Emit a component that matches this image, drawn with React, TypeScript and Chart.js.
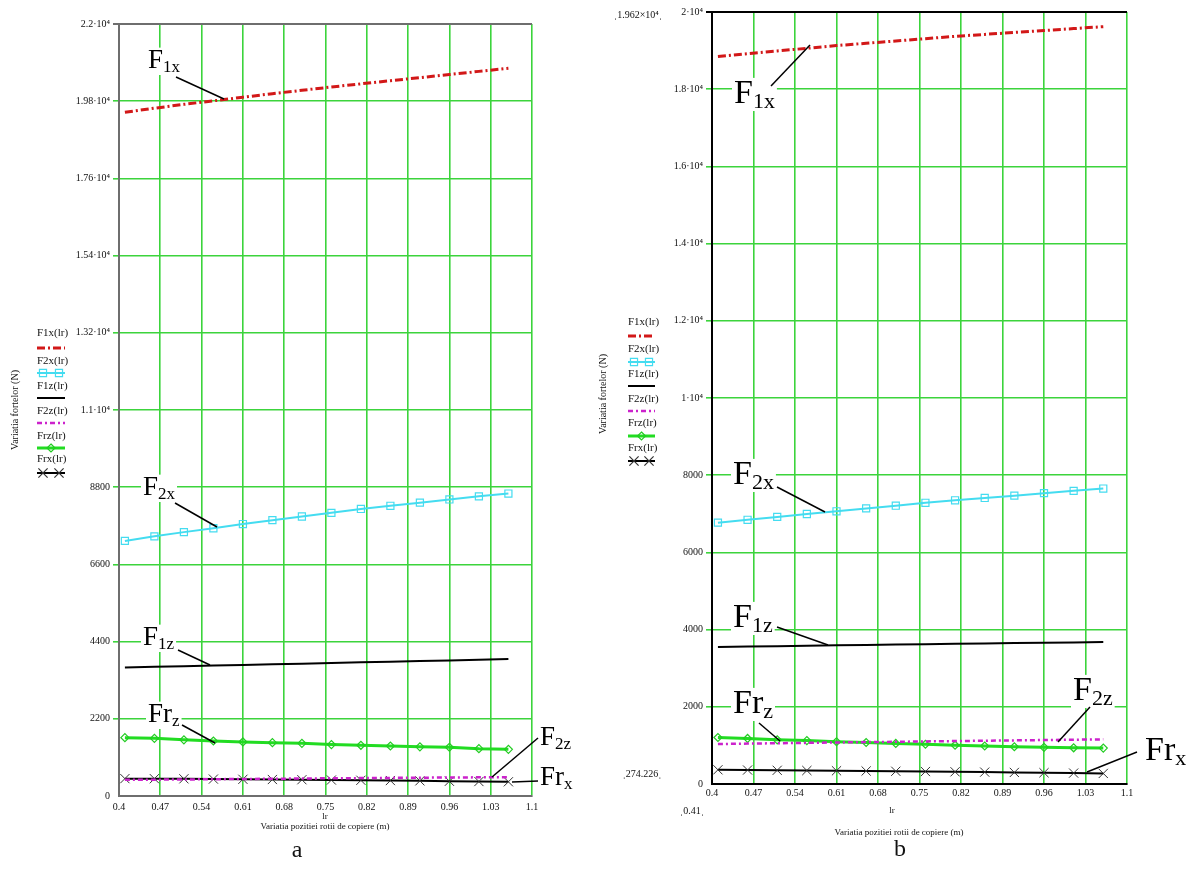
import React, { useEffect, useRef } from "react";
import { Chart, registerables } from "chart.js";

Chart.register(...registerables);

// ---------- data ----------
const LR = [0.41, 0.46, 0.51, 0.56, 0.61, 0.66, 0.71, 0.76, 0.81, 0.86, 0.91, 0.96, 1.01, 1.06];

const X_TICKS = [0.4, 0.47, 0.54, 0.61, 0.68, 0.75, 0.82, 0.89, 0.96, 1.03, 1.1];
const X_LABELS = ["0.4", "0.47", "0.54", "0.61", "0.68", "0.75", "0.82", "0.89", "0.96", "1.03", "1.1"];

const Y_TICKS_A = [0, 2200, 4400, 6600, 8800, 11000, 13200, 15400, 17600, 19800, 22000];
const Y_LABELS_A = ["0", "2200", "4400", "6600", "8800", "1.1·10⁴", "1.32·10⁴", "1.54·10⁴", "1.76·10⁴", "1.98·10⁴", "2.2·10⁴"];
const Y_TICKS_B = [0, 2000, 4000, 6000, 8000, 10000, 12000, 14000, 16000, 18000, 20000];
const Y_LABELS_B = ["0", "2000", "4000", "6000", "8000", "1·10⁴", "1.2·10⁴", "1.4·10⁴", "1.6·10⁴", "1.8·10⁴", "2·10⁴"];

const SERIES_NAMES = ["F1x(lr)", "F2x(lr)", "F1z(lr)", "F2z(lr)", "Frz(lr)", "Frx(lr)"];

// panel a
const F1X_A = [19485, 19600, 19710, 19810, 19913, 20015, 20110, 20205, 20295, 20385, 20470, 20560, 20650, 20740];
const F2X_A = [7270, 7400, 7520, 7630, 7750, 7860, 7965, 8070, 8180, 8270, 8360, 8450, 8540, 8620];
const F1Z_A = [3660, 3680, 3700, 3718, 3736, 3754, 3772, 3790, 3808, 3826, 3845, 3862, 3882, 3902];
const F2Z_A = [460, 465, 471, 478, 485, 492, 498, 505, 510, 516, 522, 527, 532, 536];
const FRZ_A = [1662, 1644, 1600, 1568, 1540, 1520, 1500, 1465, 1445, 1425, 1400, 1390, 1350, 1330];
const FRX_A = [495, 493, 490, 482, 476, 470, 464, 455, 448, 440, 432, 420, 412, 405];

// panel b
const F1X_B = [18850, 18920, 18990, 19060, 19130, 19190, 19250, 19310, 19370, 19420, 19470, 19520, 19570, 19620];
const F2X_B = [6770, 6845, 6920, 6995, 7065, 7140, 7210, 7285, 7350, 7410, 7470, 7535, 7595, 7655];
const F1Z_B = [3548, 3560, 3571, 3582, 3592, 3602, 3612, 3622, 3632, 3641, 3651, 3660, 3669, 3678];
const F2Z_B = [1035, 1046, 1056, 1066, 1076, 1085, 1094, 1103, 1112, 1121, 1130, 1139, 1148, 1157];
const FRZ_B = [1205, 1180, 1145, 1125, 1095, 1075, 1050, 1030, 1005, 985, 965, 950, 938, 930];
const FRX_B = [368, 362, 355, 349, 343, 337, 330, 323, 316, 308, 300, 292, 283, 274];

// ---------- styles ----------
const GRID = "rgb(60,212,60)";
const SERIF = "'Liberation Serif', 'Times New Roman', serif";

type Style = { color: string; width: number; dash: number[]; point?: string; radius?: number; pointColor?: string };
const STYLES: Style[] = [
  { color: "#d21818", width: 3, dash: [8, 3, 2, 3] },
  { color: "#44dcf0", width: 2, dash: [], point: "rect", radius: 5, pointColor: "#44dcf0" },
  { color: "#000000", width: 2, dash: [] },
  { color: "#cc22cc", width: 2.5, dash: [5, 3, 2, 3] },
  { color: "#22dc22", width: 3, dash: [], point: "rectRot", radius: 4, pointColor: "#22cc22" },
  { color: "#000000", width: 2, dash: [], point: "crossRot", radius: 6.5, pointColor: "#333333" },
];

type Ann = { main: string; sub: string; x: number; y: number; line: number[] };

type Panel = {
  id: string;
  offset: number;
  area: { left: number; right: number; top: number; bottom: number };
  yTicks: number[];
  yLabels: string[];
  series: number[][];
  frame: string;
  yPad: number;
  xPad: number;
  annFont: number;
  subFont: number;
  subDy: number;
  anns: Ann[];
  legendX: number;
  legendX1: number;
  legendTextY: number[];
  legendLineY: number[];
  vTitle: { x: number; y: number };
  lr: { x: number; y: number };
  xTitle: { x: number; y: number };
  letter: { text: string; x: number; y: number };
  extras: { text: string; x: number; y: number }[];
};

const PANELS: Panel[] = [
  {
    id: "a",
    offset: 0,
    area: { left: 119, right: 532, top: 24, bottom: 796 },
    yTicks: Y_TICKS_A,
    yLabels: Y_LABELS_A,
    series: [F1X_A, F2X_A, F1Z_A, F2Z_A, FRZ_A, FRX_A],
    frame: "#6e6e6e",
    yPad: 3,
    xPad: 5,
    annFont: 27,
    subFont: 17,
    subDy: 4,
    anns: [
      { main: "F", sub: "1x", x: 148, y: 68, line: [176, 77, 224, 99] },
      { main: "F", sub: "2x", x: 143, y: 495, line: [175, 503, 217, 527] },
      { main: "F", sub: "1z", x: 143, y: 645, line: [178, 650, 210, 665] },
      { main: "Fr", sub: "z", x: 148, y: 722, line: [182, 725, 215, 743] },
      { main: "F", sub: "2z", x: 540, y: 745, line: [538, 738, 492, 777] },
      { main: "Fr", sub: "x", x: 540, y: 785, line: [538, 781, 512, 782] },
    ],
    legendX: 37,
    legendX1: 65,
    legendTextY: [333, 361, 386, 411, 436, 459],
    legendLineY: [348, 373, 398, 423, 448, 473],
    vTitle: { x: 15, y: 410 },
    lr: { x: 325, y: 817 },
    xTitle: { x: 325, y: 827 },
    letter: { text: "a", x: 297, y: 851 },
    extras: [],
  },
  {
    id: "b",
    offset: 595,
    area: { left: 712, right: 1127, top: 12, bottom: 784 },
    yTicks: Y_TICKS_B,
    yLabels: Y_LABELS_B,
    series: [F1X_B, F2X_B, F1Z_B, F2Z_B, FRZ_B, FRX_B],
    frame: "#000000",
    yPad: 3,
    xPad: 3,
    annFont: 34,
    subFont: 22,
    subDy: 5,
    anns: [
      { main: "F", sub: "1x", x: 734, y: 103, line: [771, 86, 810, 45] },
      { main: "F", sub: "2x", x: 733, y: 484, line: [777, 487, 825, 512] },
      { main: "F", sub: "1z", x: 733, y: 627, line: [777, 627, 828, 645] },
      { main: "Fr", sub: "z", x: 733, y: 713, line: [759, 723, 780, 741] },
      { main: "F", sub: "2z", x: 1073, y: 700, line: [1090, 707, 1058, 742] },
      { main: "Fr", sub: "x", x: 1145, y: 760, line: [1137, 752, 1087, 772] },
    ],
    legendX: 628,
    legendX1: 655,
    legendTextY: [322, 349, 374, 399, 423, 448],
    legendLineY: [336, 362, 386, 411, 436, 461],
    vTitle: { x: 603, y: 394 },
    lr: { x: 892, y: 811 },
    xTitle: { x: 899, y: 833 },
    letter: { text: "b", x: 900, y: 850 },
    extras: [
      { text: "ˌ1.962×10⁴ˌ", x: 638, y: 15 },
      { text: "ˌ274.226ˌ", x: 642, y: 774 },
      { text: "ˌ0.41ˌ", x: 692, y: 811 },
    ],
  },
];

const CANVAS_W = 595;
const CANVAS_H = 881;

function drawMarker(ctx: CanvasRenderingContext2D, kind: string, x: number, y: number, r: number, color: string) {
  ctx.save();
  ctx.setLineDash([]);
  ctx.strokeStyle = color;
  ctx.lineWidth = 1.2;
  ctx.beginPath();
  if (kind === "rect") {
    const s = r * Math.SQRT1_2;
    ctx.rect(x - s, y - s, 2 * s, 2 * s);
  } else if (kind === "rectRot") {
    ctx.moveTo(x, y - r);
    ctx.lineTo(x + r, y);
    ctx.lineTo(x, y + r);
    ctx.lineTo(x - r, y);
    ctx.closePath();
  } else if (kind === "crossRot") {
    const s = r * Math.SQRT1_2;
    ctx.moveTo(x - s, y - s);
    ctx.lineTo(x + s, y + s);
    ctx.moveTo(x - s, y + s);
    ctx.lineTo(x + s, y - s);
  }
  ctx.stroke();
  ctx.restore();
}

function makePlugin(p: Panel) {
  return {
    id: "panelText_" + p.id,
    afterDraw(chart: any) {
      const ctx: CanvasRenderingContext2D = chart.ctx;
      ctx.save();
      ctx.translate(-p.offset, 0);

      // legend
      ctx.textAlign = "left";
      ctx.textBaseline = "middle";
      ctx.fillStyle = "#111";
      ctx.font = `11px ${SERIF}`;
      SERIES_NAMES.forEach((name, i) => {
        ctx.fillText(name, p.legendX, p.legendTextY[i]);
        const st = STYLES[i];
        const ly = p.legendLineY[i];
        ctx.save();
        ctx.strokeStyle = st.color;
        ctx.lineWidth = st.width;
        ctx.setLineDash(st.dash);
        ctx.beginPath();
        ctx.moveTo(p.legendX, ly);
        ctx.lineTo(p.legendX1, ly);
        ctx.stroke();
        ctx.restore();
        if (st.point === "rect" || st.point === "crossRot") {
          drawMarker(ctx, st.point, p.legendX + 6, ly, st.radius || 4, st.pointColor || st.color);
          drawMarker(ctx, st.point, p.legendX1 - 6, ly, st.radius || 4, st.pointColor || st.color);
        } else if (st.point === "rectRot") {
          drawMarker(ctx, st.point, (p.legendX + p.legendX1) / 2, ly, st.radius || 4, st.pointColor || st.color);
        }
      });

      // vertical axis title
      ctx.save();
      ctx.translate(p.vTitle.x, p.vTitle.y);
      ctx.rotate(-Math.PI / 2);
      ctx.textAlign = "center";
      ctx.textBaseline = "middle";
      ctx.font = `10px ${SERIF}`;
      ctx.fillStyle = "#111";
      ctx.fillText("Variatia fortelor (N)", 0, 0);
      ctx.restore();

      // x axis labels
      ctx.textAlign = "center";
      ctx.textBaseline = "middle";
      ctx.font = `9px ${SERIF}`;
      ctx.fillStyle = "#111";
      ctx.fillText("lr", p.lr.x, p.lr.y);
      ctx.fillText("Variatia pozitiei rotii de copiere (m)", p.xTitle.x, p.xTitle.y);

      // extras (range markers)
      ctx.font = `10px ${SERIF}`;
      p.extras.forEach((e) => ctx.fillText(e.text, e.x, e.y));

      // panel letter
      ctx.font = `24px ${SERIF}`;
      ctx.fillText(p.letter.text, p.letter.x, p.letter.y);

      // annotations
      ctx.textAlign = "left";
      ctx.textBaseline = "alphabetic";
      p.anns.forEach((a) => {
        ctx.font = `${p.annFont}px ${SERIF}`;
        const wMain = ctx.measureText(a.main).width;
        ctx.font = `${p.subFont}px ${SERIF}`;
        const wSub = ctx.measureText(a.sub).width;
        const cap = p.annFont * 0.68;
        ctx.fillStyle = "#ffffff";
        ctx.fillRect(a.x - 2, a.y - cap - 2, wMain + wSub + 4, cap + p.subDy + 5);
      });
      p.anns.forEach((a) => {
        ctx.save();
        ctx.strokeStyle = "#000";
        ctx.lineWidth = 1.5;
        ctx.setLineDash([]);
        ctx.beginPath();
        ctx.moveTo(a.line[0], a.line[1]);
        ctx.lineTo(a.line[2], a.line[3]);
        ctx.stroke();
        ctx.restore();
      });
      p.anns.forEach((a) => {
        ctx.fillStyle = "#000";
        ctx.font = `${p.annFont}px ${SERIF}`;
        ctx.fillText(a.main, a.x, a.y);
        const wMain = ctx.measureText(a.main).width;
        ctx.font = `${p.subFont}px ${SERIF}`;
        ctx.fillText(a.sub, a.x + wMain, a.y + p.subDy);
      });

      ctx.restore();
    },
  };
}

function buildChart(canvas: HTMLCanvasElement, p: Panel) {
  const localLeft = p.area.left - p.offset;
  const localRight = p.area.right - p.offset;
  const yMax = p.yTicks[p.yTicks.length - 1];
  const lastY = p.yTicks.length - 1;
  const datasets = p.series.map((vals, i) => {
    const st = STYLES[i];
    return {
      label: SERIES_NAMES[i],
      data: LR.map((x, j) => ({ x, y: vals[j] })),
      borderColor: st.color,
      borderWidth: st.width,
      borderDash: st.dash,
      tension: 0,
      fill: false,
      pointStyle: st.point || "circle",
      pointRadius: st.point ? st.radius : 0,
      pointBorderColor: st.pointColor || st.color,
      pointBackgroundColor: "rgba(0,0,0,0)",
      pointBorderWidth: st.point === "crossRot" ? 1 : 1.2,
    };
  });

  return new Chart(canvas, {
    type: "line",
    data: { datasets },
    plugins: [makePlugin(p)],
    options: {
      responsive: false,
      animation: false,
      events: [],
      layout: {
        padding: { left: 0, right: CANVAS_W - localRight, top: p.area.top, bottom: 0 },
      },
      plugins: { legend: { display: false }, tooltip: { enabled: false } },
      scales: {
        x: {
          type: "linear",
          min: X_TICKS[0],
          max: X_TICKS[X_TICKS.length - 1],
          afterBuildTicks: (scale: any) => {
            scale.ticks = X_TICKS.map((v) => ({ value: v }));
          },
          afterFit: (scale: any) => {
            scale.height = CANVAS_H - p.area.bottom;
          },
          ticks: {
            autoSkip: false,
            maxRotation: 0,
            padding: p.xPad,
            color: "#111",
            font: { family: SERIF, size: 10 },
            callback: (_v: any, i: number) => X_LABELS[i],
          },
          grid: {
            drawTicks: false,
            lineWidth: 1.6,
            color: (c: any) => (c.index === 0 ? "rgba(0,0,0,0)" : GRID),
          },
          border: { display: true, color: p.frame, width: 2 },
        },
        y: {
          type: "linear",
          min: 0,
          max: yMax,
          afterBuildTicks: (scale: any) => {
            scale.ticks = p.yTicks.map((v) => ({ value: v }));
          },
          afterFit: (scale: any) => {
            scale.width = localLeft;
          },
          ticks: {
            autoSkip: false,
            padding: p.yPad,
            color: "#111",
            font: { family: SERIF, size: 10 },
            callback: (_v: any, i: number) => p.yLabels[i],
          },
          grid: {
            drawTicks: true,
            tickLength: 6,
            lineWidth: (c: any) => (c.index === lastY ? 2 : 1.6),
            color: (c: any) => (c.index === 0 ? "rgba(0,0,0,0)" : c.index === lastY ? p.frame : GRID),
          },
          border: { display: true, color: p.frame, width: 2 },
        },
      },
    } as any,
  });
}

function Panel({ p }: { p: Panel }) {
  const ref = useRef<HTMLCanvasElement>(null);
  useEffect(() => {
    if (!ref.current) return;
    const chart = buildChart(ref.current, p);
    return () => chart.destroy();
  }, [p]);
  return (
    <canvas
      ref={ref}
      width={CANVAS_W}
      height={CANVAS_H}
      style={{ position: "absolute", left: p.offset, top: 0, width: CANVAS_W, height: CANVAS_H }}
    />
  );
}

export default function App() {
  return (
    <div style={{ position: "fixed", left: 0, top: 0, width: 1190, height: 881, background: "#ffffff", overflow: "hidden" }}>
      {PANELS.map((p) => (
        <Panel key={p.id} p={p} />
      ))}
    </div>
  );
}
